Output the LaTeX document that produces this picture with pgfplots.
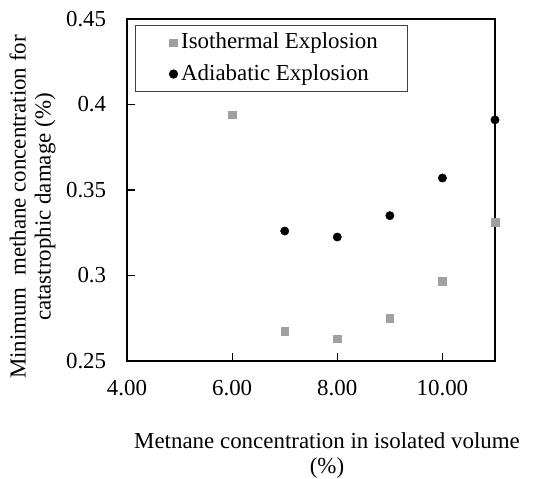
\documentclass[border=0pt]{standalone}
\usepackage{fontspec}
\setmainfont{Liberation Serif}
\usepackage{pgfplots}
\pgfplotsset{compat=1.18}
\definecolor{isogray}{RGB}{160,160,160}
\begin{document}
\fontsize{23}{25}\selectfont
\begin{tikzpicture}
\useasboundingbox (-127bp,-118bp) rectangle (408bp,361bp);
\begin{axis}[
    at={(0,0)}, anchor=south west,
    scale only axis,
    width=368bp, height=342bp,
    xmin=4, xmax=11, ymin=0.25, ymax=0.45,
    xtick={4,6,8,10},
    ytick={0.25,0.3,0.35,0.4,0.45},
    yticklabels={0.25,0.3,0.35,0.4,0.45},
    xticklabel style={/pgf/number format/fixed, /pgf/number format/fixed zerofill,
        /pgf/number format/precision=2, yshift=-11bp},
    /pgf/number format/assume math mode=true,
    yticklabel style={xshift=-13bp},
    tick align=inside,
    major tick length=8bp,
    xtick pos=bottom, ytick pos=left,
    tick style={black, line width=1.2pt},
    axis line style={line width=1.5pt},
    font=\fontsize{23}{25}\selectfont,
    xlabel={Metnane concentration in isolated volume\\(\%)},
    xlabel style={align=center, at={(rel axis cs:0.5435,0)}, anchor=north, yshift=-64bp},
    ylabel={Minimum\ \ methane concentration for\\catastrophic damage (\%)},
    ylabel style={align=center, at={(rel axis cs:-0.173,0.45)}, anchor=south},
    legend style={at={(rel axis cs:0.022,0.982)}, anchor=north west,
        draw=black!75, line width=0.8pt, row sep=0bp, inner xsep=26bp, inner ysep=1.5bp,
        nodes={inner xsep=3.5bp, inner ysep=6bp},
        font=\fontsize{23}{25}\selectfont},
    legend image code/.code={
        \path[draw=none, fill=none] (-12bp,0bp) -- (4bp,0bp);
        \draw[#1] plot coordinates {(0bp,0bp)};
    },
    legend cell align=left,
]
\addplot[only marks, mark=square*, mark size=3.8bp, color=isogray]
    coordinates {(6,0.394) (7,0.2675) (8,0.263) (9,0.275) (10,0.2965) (11,0.331)};
\addlegendentry{Isothermal Explosion}
\addplot[only marks, mark=*, mark size=4.2bp, color=black]
    coordinates {(7,0.326) (8,0.3225) (9,0.335) (10,0.357) (11,0.391)};
\addlegendentry{Adiabatic Explosion}
\end{axis}
\end{tikzpicture}
\end{document}
